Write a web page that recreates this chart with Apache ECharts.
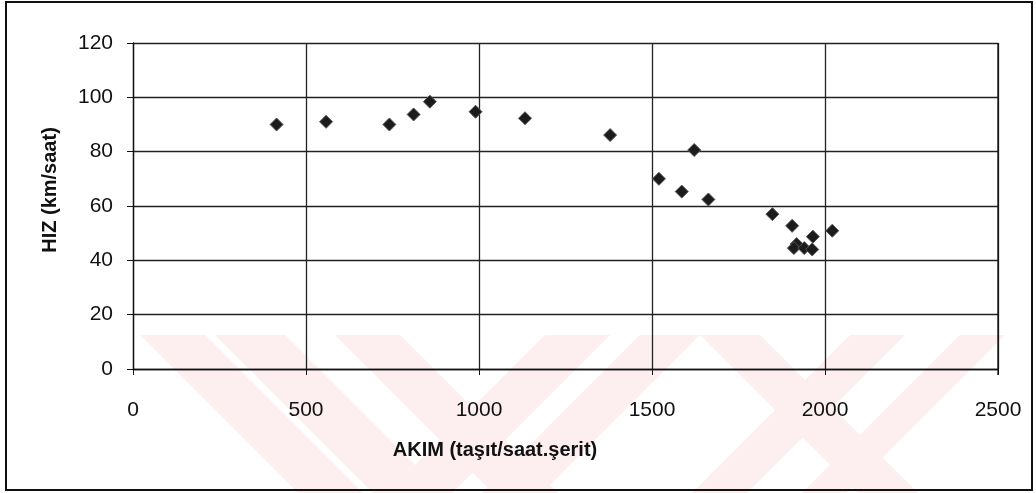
<!DOCTYPE html>
<html>
<head>
<meta charset="utf-8">
<script src="https://cdn.jsdelivr.net/npm/echarts@6/dist/echarts.min.js"></script>
<style>
html,body{margin:0;padding:0;background:#fff;}
#chart{width:1036px;height:493px;}
</style>
</head>
<body>
<div id="chart"></div>
<script>
// Data
const akim = [415, 558, 741, 811, 858, 990, 1133, 1379, 1520, 1586, 1622, 1663, 1848, 1905, 1965, 2021, 1918, 1910, 1940, 1963];
const hiz  = [90, 91, 90, 93.7, 98.4, 94.7, 92.3, 86.1, 70, 65.3, 80.6, 62.4, 57, 52.7, 48.7, 50.9, 46, 44.5, 44.5, 44];
const xTicks = [0, 500, 1000, 1500, 2000, 2500];
const yTicks = [0, 20, 40, 60, 80, 100, 120];
const xTitle = 'AKIM (taşıt/saat.şerit)';
const yTitle = 'HIZ (km/saat)';

const points = akim.map((v, i) => [v, hiz[i]]);

// faint scan watermark bands
const pink = '#fdeef0';
function band(x1, x2, dir) {
  const top = 335, bot = 493, d = (bot - top) * 1.0 * dir;
  return {
    type: 'polygon', silent: true, z: -10,
    shape: {points: [[x1, top], [x2, top], [x2 + d, bot], [x1 + d, bot]]},
    style: {fill: pink}
  };
}
const bands = [
  band(140, 205, 1), band(215, 285, 1), band(335, 400, 1), band(545, 610, -1),
  band(640, 700, -1), band(700, 760, 1), band(850, 905, -1), band(960, 1005, -1)
];

const font = 'Liberation Sans, Arial';
const chart = echarts.init(document.getElementById('chart'), null, {renderer: 'canvas'});
chart.setOption({
  backgroundColor: '#fff',
  animation: false,
  graphic: [
    ...bands,
    {type: 'rect', silent: true, z: 100,
     shape: {x: 6, y: 2, width: 1026, height: 488},
     style: {fill: 'none', stroke: '#111', lineWidth: 2}},
    {type: 'line', silent: true, z: 5,
     shape: {x1: 998, y1: 43, x2: 998, y2: 375},
     style: {stroke: '#111', lineWidth: 1.3}},
    {type: 'text', silent: true, z: 10, x: 495, y: 450,
     style: {text: xTitle, font: 'bold 20px ' + font, fill: '#111', align: 'center', verticalAlign: 'middle'}},
    {type: 'text', silent: true, z: 10, x: 50, y: 190, rotation: Math.PI / 2,
     style: {text: yTitle, font: 'bold 20px ' + font, fill: '#111', align: 'center', verticalAlign: 'middle'}}
  ],
  grid: {left: 133, right: 38, top: 43, bottom: 124, containLabel: false, show: false},
  xAxis: {
    type: 'value', min: xTicks[0], max: xTicks[xTicks.length - 1], interval: 500,
    axisLine: {show: true, onZero: false, lineStyle: {color: '#111', width: 1.3}},
    axisTick: {show: true, length: 6, inside: false, lineStyle: {color: '#111'}},
    axisLabel: {margin: 31, fontFamily: font, fontSize: 21, color: '#111', formatter: v => String(v)},
    splitLine: {show: true, lineStyle: {color: '#222', width: 1.3}}
  },
  yAxis: {
    type: 'value', min: yTicks[0], max: yTicks[yTicks.length - 1], interval: 20,
    axisLine: {show: true, onZero: false, lineStyle: {color: '#111', width: 1.3}},
    axisTick: {show: true, length: 6, inside: false, lineStyle: {color: '#111'}},
    axisLabel: {margin: 20, fontFamily: font, fontSize: 21, color: '#111', formatter: v => String(v)},
    splitLine: {show: true, lineStyle: {color: '#222', width: 1.3}}
  },
  series: [{
    type: 'scatter',
    data: points,
    symbol: 'diamond',
    symbolSize: 13,
    itemStyle: {color: '#1c1c1c', borderColor: '#555', borderWidth: 1, opacity: 1}
  }]
});
</script>
</body>
</html>
